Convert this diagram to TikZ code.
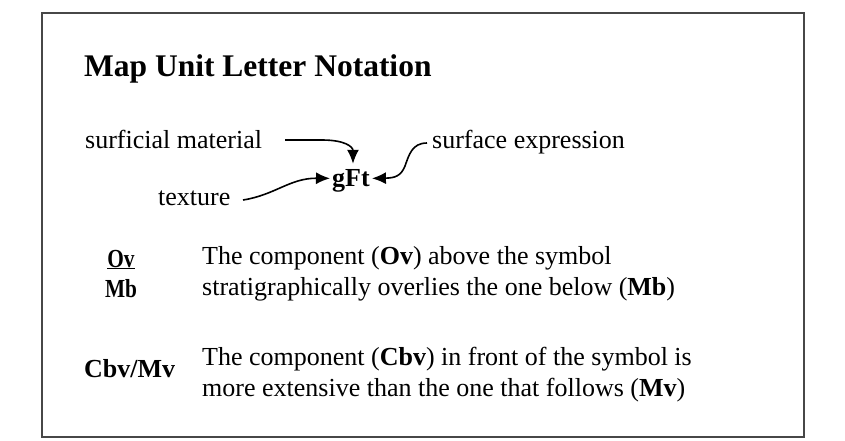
\documentclass[tikz,border=0pt]{standalone}
\usepackage{fontspec}
\setmainfont{Liberation Serif}
\usetikzlibrary{arrows.meta}

\tikzset{
  lbl/.style={anchor=base west,inner sep=0pt,font=\fontsize{26}{31}\selectfont},
  sym/.style={lbl,font=\fontsize{26}{31}\selectfont\bfseries},
  stack/.style={sym,anchor=base},
  pointer/.style={line width=1.6pt,-{Latex[length=14pt,width=12pt]}}
}

\begin{document}
\begin{tikzpicture}[x=1pt,y=-1pt]
\useasboundingbox (0,0) rectangle (845,441);
\draw[line width=1.8pt,black!72] (42,13) rectangle (804,437);

\node[lbl,font=\fontsize{31.5}{36}\selectfont\bfseries] (title) at (84,77) {Map Unit Letter Notation};

% letter notation
\node[lbl] (material) at (85,148) {surficial material};
\node[lbl] (expression) at (432,148) {surface expression};
\node[lbl] (texture) at (158,205) {texture};
\node[sym,inner xsep=2pt] (gft) at (330,186) {gFt};
\coordinate (m0) at (285,140);
\coordinate (e0) at (427,143);
\coordinate (t0) at (243,200);
\draw[pointer] (m0) -- (322,140) .. controls (345,140) and ([xshift=2pt,yshift=22pt]gft.north) .. ([xshift=2pt,yshift=5pt]gft.north);
\draw[pointer] (e0) .. controls (412,143) and (409,155) .. (405,166)
  .. controls (401,176) and (395,178) .. ([yshift=2pt]gft.east);
\draw[pointer] (t0) .. controls (275,195) and (290,178) .. ([yshift=2pt]gft.west);

% stacked symbol
\node[stack] (ov) at (121,267) {\scalebox{0.82}[1]{\underline{Ov}}};
\node[stack] (mb) at (121,297) {\scalebox{0.82}[1]{Mb}};
\node[lbl] (ovline) at (202,264) {The component (\textbf{Ov}) above the symbol};
\node[lbl] (mbline) at (202,295) {stratigraphically overlies the one below (\textbf{Mb})};

% slash symbol
\node[sym] (cbvmv) at (84,377) {Cbv/Mv};
\node[lbl] (cbvline) at (202,365) {The component (\textbf{Cbv}) in front of the symbol is};
\node[lbl] (mvline) at (202,396) {more extensive than the one that follows (\textbf{Mv})};
\end{tikzpicture}
\end{document}
